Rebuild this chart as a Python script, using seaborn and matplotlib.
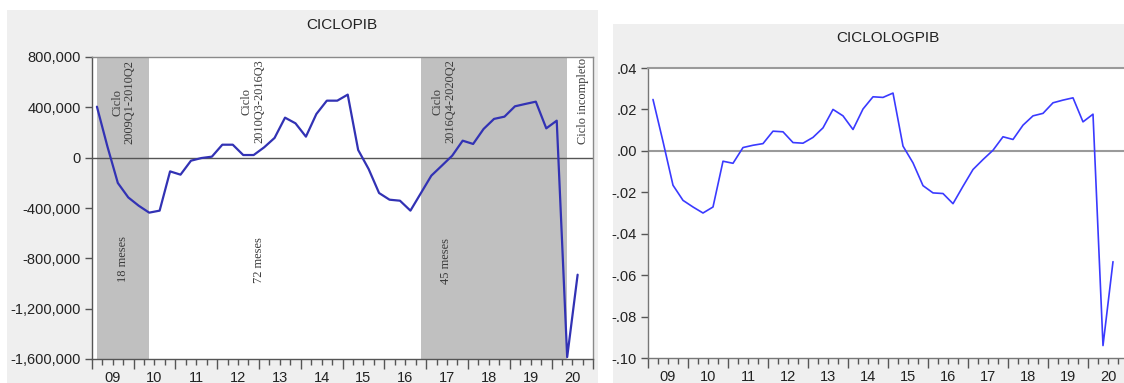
import numpy as np
import pandas as pd
import matplotlib
matplotlib.use("Agg")
import matplotlib.pyplot as plt
from matplotlib.patches import Rectangle
from matplotlib.ticker import FixedLocator, FuncFormatter, NullFormatter
import seaborn as sns

# Quarterly sample 2009Q1 - 2020Q3
start_year = 2009
n_quarters = 47

# Cycle of GDP level (HP filter residual)
ciclo_pib = [
    405000, 90000, -201000, -316000, -382000, -437000, -421000, -109000,
    -135000, -24000, -3000, 8000, 103000, 103000, 21000, 21000,
    82000, 157000, 318000, 273000, 167000, 347000, 453000, 453000,
    501000, 61000, -90000, -281000, -334000, -342000, -421000, -282000,
    -143000, -64000, 16000, 135000, 109000, 228000, 308000, 326000,
    408000, 427000, 445000, 233000, 294000, -1585000, -930000,
]

# Cycle of log GDP
ciclo_log_pib = [
    0.0248, 0.0045, -0.0166, -0.0239, -0.0271, -0.0300, -0.0271, -0.0050,
    -0.0060, 0.0016, 0.0027, 0.0035, 0.0095, 0.0092, 0.0040, 0.0037,
    0.0065, 0.0111, 0.0200, 0.0169, 0.0103, 0.0202, 0.0261, 0.0258,
    0.0279, 0.0023, -0.0058, -0.0168, -0.0203, -0.0206, -0.0255, -0.0171,
    -0.0090, -0.0042, 0.0003, 0.0068, 0.0055, 0.0124, 0.0169, 0.0181,
    0.0232, 0.0245, 0.0256, 0.0140, 0.0177, -0.0940, -0.0535,
]

year_labels = ["09", "10", "11", "12", "13", "14", "15", "16", "17", "18", "19", "20"]

# Shaded cycles (first and last quarter of each)
shade_periods = [("2009Q1", "2010Q2"), ("2016Q4", "2020Q2")]

cycle_labels = ["Ciclo\n2009Q1-2010Q2", "Ciclo\n2010Q3-2016Q3",
                "Ciclo\n2016Q4-2020Q2", "Ciclo incompleto"]
duration_labels = ["18 meses", "72 meses", "45 meses"]

left_yticks = [800000, 400000, 0, -400000, -800000, -1200000, -1600000]
right_yticks = [0.04, 0.02, 0.0, -0.02, -0.04, -0.06, -0.08, -0.10]


def quarter_pos(label):
    y, q = int(label[:4]), int(label[-1])
    return y + (q - 1) / 4 + 0.125


periods = [f"{start_year + i // 4}Q{i % 4 + 1}" for i in range(n_quarters)]
df = pd.DataFrame({
    "t": [quarter_pos(p) for p in periods],
    "ciclopib": ciclo_pib,
    "ciclologpib": ciclo_log_pib,
})

sns.set_style("white")
plt.rcParams["font.family"] = ["Liberation Sans", "DejaVu Sans"]

W, H = 1124, 383
fig = plt.figure(figsize=(W / 100, H / 100), dpi=100)
fig.patch.set_facecolor("white")

panel_bg = "#efefef"
fig.patches.append(Rectangle((7 / W, 0), 591 / W, 373 / H, transform=fig.transFigure,
                             facecolor=panel_bg, edgecolor="none", zorder=-10))
fig.patches.append(Rectangle((613 / W, 0), 511 / W, 359 / H, transform=fig.transFigure,
                             facecolor=panel_bg, edgecolor="none", zorder=-10))

ax1 = fig.add_axes([91.7 / W, 24 / H, 501.6 / W, 302 / H])
ax2 = fig.add_axes([648 / W, 25 / H, 480 / W, 290 / H])


def style_time_axis(ax):
    ax.set_xlim(2009, 2021)
    years = np.arange(2009, 2021)
    ax.xaxis.set_major_locator(FixedLocator(years + 0.5))
    ax.set_xticklabels(year_labels)
    ax.xaxis.set_minor_locator(FixedLocator(
        np.concatenate([years + 0.25, years + 0.75])))
    ax.tick_params(axis="x", which="both", bottom=True, length=4, width=1,
                   color="#555555", direction="out")
    ax.tick_params(axis="x", which="major", pad=4.5, labelsize=10.5,
                   labelcolor="#222222")
    sec = ax.secondary_xaxis("bottom")
    sec.set_xticks(np.arange(2009, 2022))
    sec.xaxis.set_major_formatter(NullFormatter())
    sec.tick_params(length=7, width=1, color="#555555", direction="out")
    sec.spines["bottom"].set_visible(False)
    ax.tick_params(axis="y", left=True, length=5, width=1, color="#555555",
                   labelsize=10.5, labelcolor="#222222", pad=3)
    ax.set_xlabel("")
    ax.set_ylabel("")
    ax.set_facecolor("white")


# Left panel: level cycle
for a, b in shade_periods:
    ax1.axvspan(quarter_pos(a), quarter_pos(b), color="#c0c0c0", lw=0, zorder=0)
ax1.axhline(0, color="#555555", lw=1.0, zorder=1)
sns.lineplot(data=df, x="t", y="ciclopib", ax=ax1, color="#3232b4", lw=1.6,
             zorder=3)
ax1.set_ylim(-1600000, 800000)
ax1.yaxis.set_major_locator(FixedLocator(left_yticks))
ax1.yaxis.set_major_formatter(FuncFormatter(lambda v, p: f"{int(round(v)):,}"))
style_time_axis(ax1)
for s in ax1.spines.values():
    s.set_color("#8a8a8a")
    s.set_linewidth(1)
ax1.spines["left"].set_color("#555555")
ax1.spines["bottom"].set_color("#555555")

txt_kw = dict(rotation=90, ha="center", va="center", fontsize=8.9,
              family=["Liberation Serif", "DejaVu Serif"], color="#3a3a3a",
              linespacing=1.1, multialignment="center", zorder=4)
cycle_pos = [(2009.76, 442000), (2012.86, 450000), (2017.43, 450000),
             (2020.76, 450000)]
for (x, y), s in zip(cycle_pos, cycle_labels):
    ax1.text(x, y, s, **txt_kw)
duration_pos = [(2009.74, -805000), (2013.01, -813000), (2017.47, -820000)]
for (x, y), s in zip(duration_pos, duration_labels):
    ax1.text(x, y, s, **txt_kw)

# Right panel: log cycle
ax2.axhline(0, color="#9a9a9a", lw=1.5, zorder=1)
sns.lineplot(data=df, x="t", y="ciclologpib", ax=ax2, color="#3a3aff", lw=1.2,
             zorder=3)
ax2.set_ylim(-0.10, 0.04)
ax2.yaxis.set_major_locator(FixedLocator(right_yticks))


def dot_fmt(v, p):
    s = f"{abs(v):.2f}".lstrip("0")
    return ("-" if v < -1e-9 else "") + s


ax2.yaxis.set_major_formatter(FuncFormatter(dot_fmt))
style_time_axis(ax2)
for s in ax2.spines.values():
    s.set_color("#9a9a9a")
    s.set_linewidth(1.5)
ax2.spines["left"].set_color("#777777")
ax2.spines["left"].set_linewidth(1)
ax2.spines["bottom"].set_color("#777777")
ax2.spines["bottom"].set_linewidth(1)

fig.text(342 / W, 1 - 25 / H, "CICLOPIB", ha="center", va="center",
         fontsize=11, color="#222222")
fig.text(887.5 / W, 1 - 38 / H, "CICLOLOGPIB", ha="center", va="center",
         fontsize=11, color="#222222")

fig.savefig("out.png", dpi=100, facecolor=fig.get_facecolor())
